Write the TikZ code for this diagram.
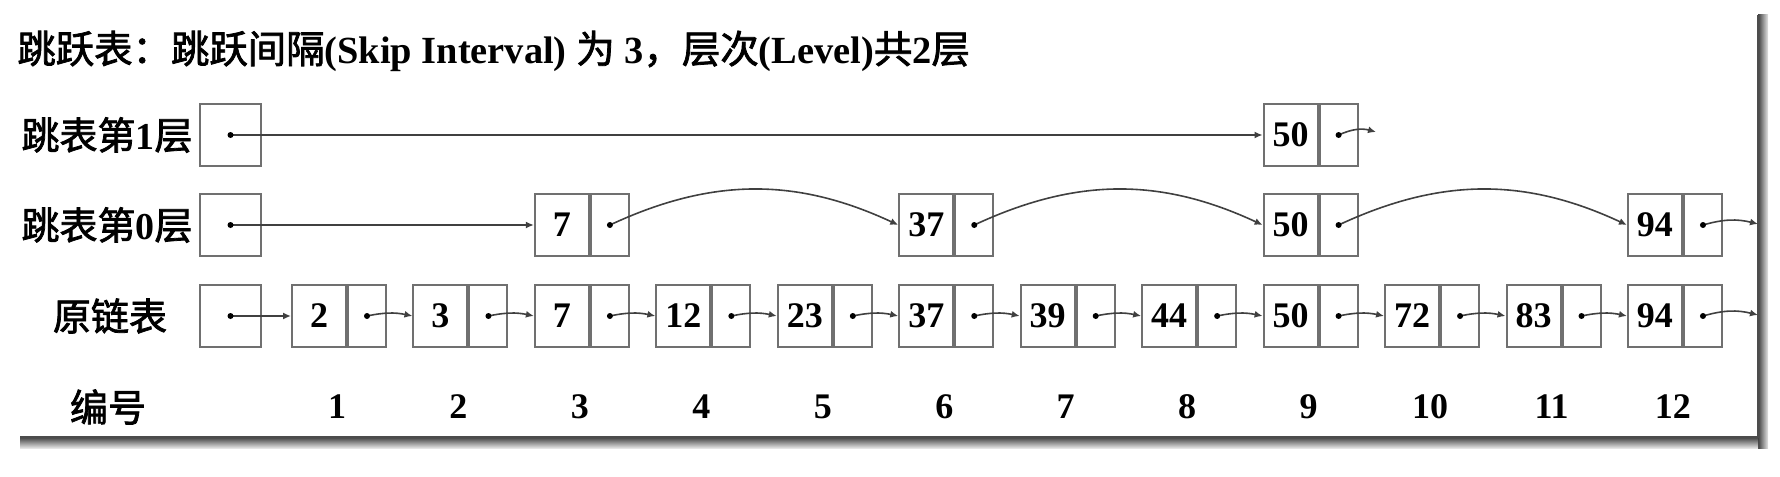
\documentclass[tikz,border=0pt]{standalone}
\usepackage{fontspec}
\setmainfont{Liberation Serif}
\newfontfamily\cjkfam{Noto Sans CJK SC}[FakeBold=2]
\newcommand\zh[1]{{\cjkfam\mdseries #1}}
\usetikzlibrary{arrows.meta}
\definecolor{boxgray}{HTML}{707070}
\definecolor{linegray}{HTML}{404040}
\tikzset{
  cellbox/.style={draw=boxgray, line width=1pt, minimum height=31pt, inner sep=0pt},
  val/.style={cellbox, minimum width=27pt, anchor=west, font=\bfseries\fontsize{18pt}{20pt}\selectfont},
  ptr/.style={cellbox, minimum width=19pt, anchor=west},
  headbox/.style={cellbox, minimum width=30.5pt},
  lab/.style={inner sep=0pt, font=\bfseries\fontsize{19pt}{21pt}\selectfont},
  num/.style={inner sep=0pt, font=\bfseries\fontsize{18pt}{20pt}\selectfont},
  link/.style={draw=linegray, line width=0.8pt, -{Latex[length=4pt,width=3.5pt]}},
  ptrdot/.style={fill=black},
}
\begin{document}
\begin{tikzpicture}[x=0.5pt,y=-0.5pt]
\useasboundingbox (0,0) rectangle (1780,476);
% frame shadow
\shade[left color=black!75, right color=black!10] (1758,15) rectangle (1768,448);
\shade[top color=black!75, bottom color=black!10] (20,437) rectangle (1758,448);
\draw[black!70, line width=0.6pt] (1758,15) -- (1758,437) -- (20,437);
% title
\node[lab, anchor=west, font=\bfseries\fontsize{19.2pt}{21pt}\selectfont] (title) at (17,51) {\zh{跳跃表：跳跃间隔}(Skip Interval) \zh{为} 3\zh{，层次}(Level)\zh{共}2\zh{层}};
% row labels
\node[lab] (l1) at (107,135) {\zh{跳表第}1\zh{层}};
\node[lab] (l0) at (107,225) {\zh{跳表第}0\zh{层}};
\node[lab] (l2) at (110,316) {\zh{原链表}};
\node[lab] (l3) at (108,407) {\zh{编号}};
% head boxes
\node[headbox] (h1) at (230.5,135) {};
\node[headbox] (h0) at (230.5,225) {};
\node[headbox] (h2) at (230.5,316) {};
% original list
\foreach \v [count=\k] in {2,3,7,12,23,37,39,44,50,72,83,94} {
  \pgfmathsetmacro\xx{291+(\k-1)*121.45}
  \node[val] (a\k) at (\xx,316) {\v};
  \node[ptr] (ap\k) at (a\k.east) {};
  \node[num] (n\k) at (\xx+46,407) {\k};
}
% level 0
\foreach \v/\k in {7/3,37/6,50/9,94/12} {
  \pgfmathsetmacro\xx{291+(\k-1)*121.45}
  \node[val] (b\k) at (\xx,225) {\v};
  \node[ptr] (bp\k) at (b\k.east) {};
}
% level 1
\pgfmathsetmacro\xx{291+8*121.45}
\node[val] (c9) at (\xx,135) {50};
\node[ptr] (cp9) at (c9.east) {};
% end coordinates
\coordinate (e1) at (1376,132);
\coordinate (e0) at (1758,224);
\coordinate (e2) at (1758,315);
% links original list
\draw[link] (h2.center) -- (a1.west);
\foreach \k in {1,...,11} {
  \pgfmathtruncatemacro\nn{\k+1}
  \draw[link] (ap\k.center) to[bend left=12] (a\nn.west);
}
\draw[link] (ap12.center) to[bend left=15] (e2);
% links level 0
\draw[link] (h0.center) -- (b3.west);
\draw[link] (bp3.center) to[out=25,in=155] (b6.west);
\draw[link] (bp6.center) to[out=25,in=155] (b9.west);
\draw[link] (bp9.center) to[out=25,in=155] (b12.west);
\draw[link] (bp12.center) to[bend left=15] (e0);
% links level 1
\draw[link] (h1.center) -- (c9.west);
\draw[link] (cp9.center) to[bend left=20] (e1);
% dots
\foreach \n in {h1,h0,h2,cp9,bp3,bp6,bp9,bp12,ap1,ap2,ap3,ap4,ap5,ap6,ap7,ap8,ap9,ap10,ap11,ap12} {
  \fill[ptrdot] (\n.center) circle (1.5pt);
}
\end{tikzpicture}
\end{document}
